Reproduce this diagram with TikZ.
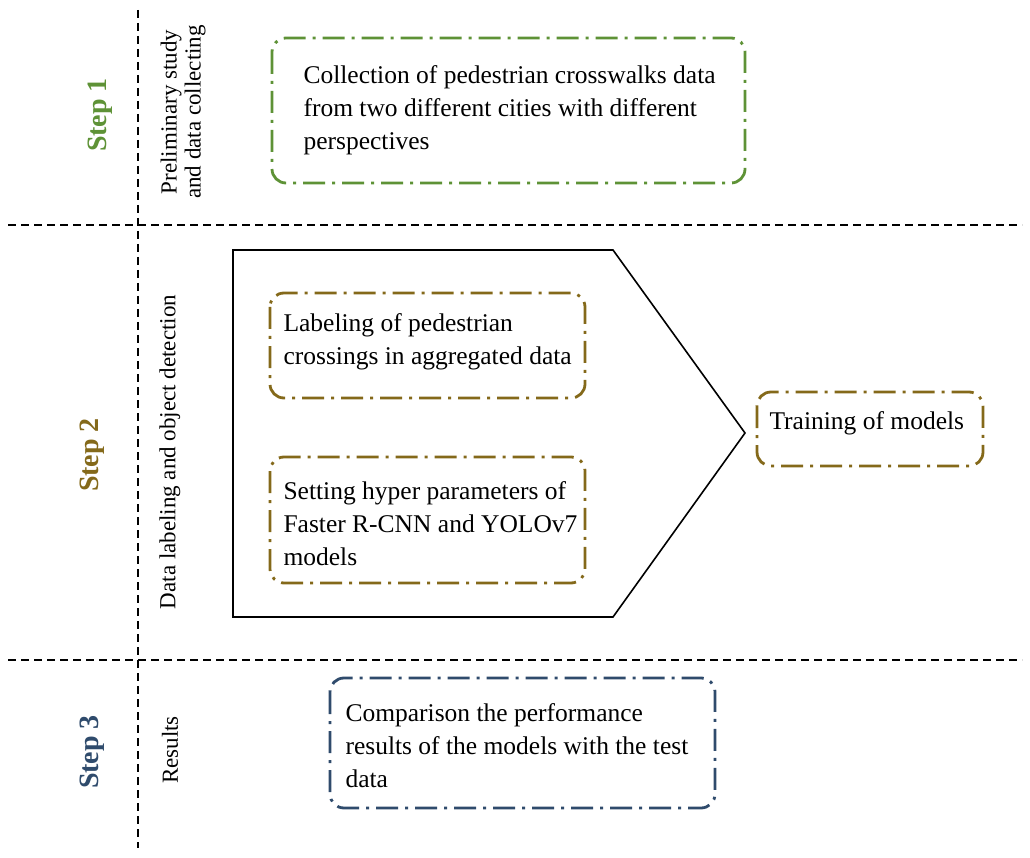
\documentclass[tikz,border=0pt]{standalone}
\usepackage{fontspec}
\setmainfont{Liberation Serif}
\begin{document}
\begin{tikzpicture}[x=1pt,y=-1pt,
 sep/.style={line width=2.5pt,dash pattern=on 8pt off 5pt},
 bx/.style={rounded corners=14pt,line width=2.8pt,dash pattern=on 22pt off 7pt on 3pt off 7pt},
 tx/.style={font=\fontsize{25.5}{33}\selectfont,align=left,anchor=north west},
 steplbl/.style={font=\bfseries\fontsize{28}{32}\selectfont,rotate=90},
 side/.style={font=\fontsize{23}{24}\selectfont,rotate=90,align=center}]
\definecolor{gr}{HTML}{5E9236}\definecolor{ol}{HTML}{84691A}\definecolor{bl}{HTML}{2F4B6C}
\useasboundingbox (0,0) rectangle (1030,858);
\coordinate (v1) at (138,10);\coordinate (v2) at (138,848);
\draw[sep] (v1)--(v2);
\coordinate (h1a) at (8,225);\coordinate (h1b) at (1022,225);
\coordinate (h2a) at (8,660);\coordinate (h2b) at (1022,660);
\draw[sep] (h1a)--(h1b); \draw[sep] (h2a)--(h2b);
\node[steplbl,text=gr] (s1) at (100,115) {Step 1};
\node[steplbl,text=ol] (s2) at (92,455) {Step 2};
\node[steplbl,text=bl] (s3) at (92,752) {Step 3};
\node[side] (l1) at (183,112) {Preliminary study\\and data collecting};
\node[side] (l2) at (170,452) {Data labeling and object detection};
\node[side] (l3) at (170,750) {Results};
\draw[line width=1.6pt] (233,250)--(613,250)--(745,433)--(613,617)--(233,617)--cycle;
\draw[bx,gr] (272,38) rectangle (745,183);
\node[tx] (t1) at (300,62) {Collection of pedestrian crosswalks data\\from two different cities with different\\perspectives};
\draw[bx,ol] (270,293) rectangle (585,398);
\node[tx] (t2) at (280,310) {Labeling of pedestrian\\crossings in aggregated data};
\draw[bx,ol] (270,457) rectangle (585,583);
\node[tx] (t3) at (280,478) {Setting hyper parameters of\\Faster R-CNN and YOLOv7\\models};
\draw[bx,ol] (757,392) rectangle (983,466);
\node[tx] (t4) at (766,408) {Training of models};
\draw[bx,bl] (330,678) rectangle (715,808);
\node[tx] (t5) at (342,700) {Comparison the performance\\results of the models with the test\\data};
\end{tikzpicture}
\end{document}
